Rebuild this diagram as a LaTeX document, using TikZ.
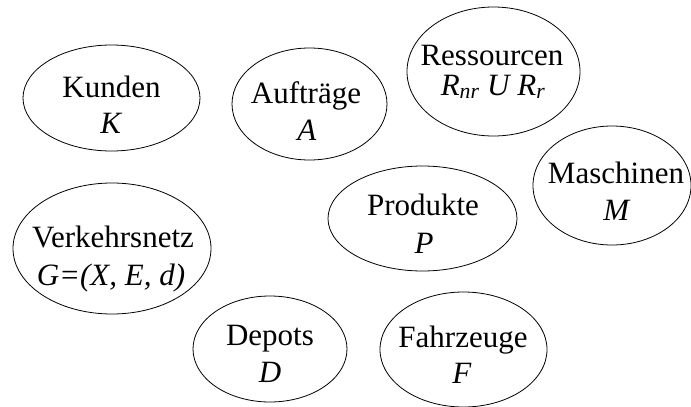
\documentclass[tikz,border=0pt]{standalone}
\usepackage{fontspec}
\setmainfont{Liberation Serif}
\usetikzlibrary{shapes.geometric}
\tikzset{
  set/.style={draw=black, line width=0.8pt, ellipse, inner sep=0pt},
  lbl/.style={anchor=base, inner sep=0pt, font=\fontsize{31}{37}\selectfont},
}
\begin{document}
\begin{tikzpicture}[x=1pt, y=-1pt]
\useasboundingbox (0,0) rectangle (691,407);
% ellipses
\node[set, minimum width=177pt, minimum height=106pt] (kunden) at (111.5,98) {};
\node[set, minimum width=155pt, minimum height=112pt] (auftraege) at (309.5,104) {};
\node[set, minimum width=173pt, minimum height=129pt] (ressourcen) at (493.5,71.5) {};
\node[set, minimum width=158pt, minimum height=119pt] (maschinen) at (612,185.5) {};
\node[set, minimum width=189pt, minimum height=105pt] (produkte) at (422.5,218.5) {};
\node[set, minimum width=198pt, minimum height=131pt] (verkehr) at (112,248.5) {};
\node[set, minimum width=154pt, minimum height=106pt] (depots) at (270,349) {};
\node[set, minimum width=167pt, minimum height=115pt] (fahrzeuge) at (463.5,349.5) {};
% labels
\node[lbl] (kunden1) at (111.5,97) {Kunden};
\node[lbl] (kunden2) at (111.5,133) {\textit{K}};
\node[lbl] (auftraege1) at (306,103) {Aufträge};
\node[lbl] (auftraege2) at (307,140) {\textit{A}};
\node[lbl] (ressourcen1) at (492,65) {Ressourcen};
\node[lbl] (ressourcen2) at (493,95) {\textit{R\textsubscript{nr} U R\textsubscript{r}}};
\node[lbl] (maschinen1) at (616,183) {Maschinen};
\node[lbl] (maschinen2) at (617,220) {\textit{M}};
\node[lbl] (produkte1) at (423,215) {Produkte};
\node[lbl] (produkte2) at (424,253) {\textit{P}};
\node[lbl] (verkehr1) at (113,247) {Verkehrsnetz};
\node[lbl] (verkehr2) at (111,285) {\textit{G=(X, E, d)}};
\node[lbl] (depots1) at (270,345) {Depots};
\node[lbl] (depots2) at (270,382) {\textit{D}};
\node[lbl] (fahrzeuge1) at (463,347) {Fahrzeuge};
\node[lbl] (fahrzeuge2) at (462,383) {\textit{F}};
\end{tikzpicture}
\end{document}
